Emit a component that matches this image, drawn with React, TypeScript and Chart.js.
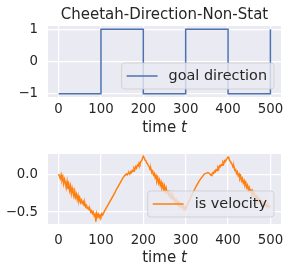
import React, { useEffect, useRef } from 'react';
import { Chart, registerables } from 'chart.js';

Chart.register(...registerables);

const TITLE = 'Cheetah-Direction-Non-Stat';
const X_LABEL_MAIN = 'time ';
const X_LABEL_ITALIC = 't';
const X_TICKS = [0, 100, 200, 300, 400, 500];

const GOAL_LABEL = 'goal direction';
const GOAL_T = [0, 100, 200, 300, 400, 500];
const GOAL_V = [-1, 1, -1, 1, -1, 1];
const GOAL_TICKS = [-1, 0, 1];

const VEL_LABEL = 'is velocity';
const VEL_T = [
  // A
  0, 2, 4, 6, 8, 10, 12, 14, 16, 18,
  20, 22, 24, 26, 28, 30, 32, 34, 36, 38,
  40, 42, 44, 46, 48, 50, 52, 54, 56, 58,
  60, 62, 64, 66, 68, 70, 72, 74, 76, 78,
  80, 82, 84, 86, 88, 90, 92, 94, 96, 98,
  100, 102, 104,
  // B
  108, 112, 116, 120, 124, 128, 132, 136, 140, 144, 148, 152, 156,
  // C
  160, 162, 164, 166, 168, 170, 172, 174, 176, 178,
  180, 182, 184, 186, 188, 190, 192, 194, 196, 198, 200,
  // D
  202, 204, 206, 208, 210, 212, 214, 216, 218, 220,
  222, 224, 226, 228, 230, 232, 234, 236, 238, 240,
  242, 244, 246, 248, 250, 252, 254, 256, 258, 260,
  262, 264, 266, 268, 270, 272, 274, 276, 278, 280,
  282, 284, 286, 288, 290, 292, 294, 296, 298, 300,
  // E
  304, 308, 312, 316, 320, 324, 328, 332, 336, 340, 344, 348, 352, 356,
  // F
  360, 362, 364, 366, 368, 370, 372, 374, 376, 378,
  380, 382, 384, 386, 388, 390, 392, 394, 396, 398, 400,
  // G
  402, 404, 406, 408, 410, 412, 414, 416, 418, 420,
  422, 424, 426, 428, 430, 432, 434, 436, 438, 440,
  442, 444, 446, 448, 450, 452, 454, 456, 458, 460,
  462, 464, 466, 468, 470, 472, 474, 476, 478, 480,
  482, 484, 486, 488, 490, 492, 494, 496, 498, 500,
];
const VEL_V = [
  // A
  0.01, -0.02, -0.05, 0.00, -0.07, -0.03, -0.12, -0.06, -0.10, -0.17,
  -0.09, -0.19, -0.13, -0.21, -0.15, -0.25, -0.18, -0.24, -0.29, -0.22,
  -0.30, -0.26, -0.33, -0.28, -0.35, -0.31, -0.37, -0.34, -0.38, -0.36,
  -0.41, -0.38, -0.43, -0.41, -0.45, -0.44, -0.47, -0.46, -0.50, -0.48,
  -0.52, -0.50, -0.55, -0.53, -0.63, -0.52, -0.56, -0.53, -0.57, -0.54,
  -0.56, -0.52, -0.54,
  // B
  -0.49, -0.45, -0.41, -0.37, -0.33, -0.29, -0.25, -0.20, -0.16, -0.12, -0.08, -0.04, -0.01,
  // C
  0.01, 0.00, 0.02, 0.03, 0.01, 0.04, 0.03, 0.06, 0.05, 0.09,
  0.07, 0.11, 0.09, 0.13, 0.12, 0.16, 0.14, 0.18, 0.19, 0.22, 0.25,
  // D
  0.23, 0.20, 0.19, 0.16, 0.15, 0.12, 0.11, 0.07, 0.08, 0.03,
  0.05, 0.00, 0.02, -0.04, -0.01, -0.08, -0.04, -0.11, -0.07, -0.14,
  -0.10, -0.17, -0.13, -0.20, -0.15, -0.22, -0.18, -0.25, -0.21, -0.27,
  -0.24, -0.30, -0.27, -0.32, -0.29, -0.34, -0.32, -0.37, -0.34, -0.39,
  -0.36, -0.40, -0.38, -0.42, -0.40, -0.44, -0.42, -0.45, -0.43, -0.46,
  // E
  -0.40, -0.35, -0.30, -0.25, -0.21, -0.16, -0.12, -0.08, -0.05, -0.02, 0.01, 0.02, 0.03, 0.02,
  // F
  -0.01, 0.01, 0.03, 0.02, 0.05, 0.04, 0.07, 0.06, 0.10, 0.08,
  0.12, 0.11, 0.14, 0.13, 0.17, 0.15, 0.19, 0.18, 0.21, 0.22, 0.24,
  // G
  0.22, 0.19, 0.18, 0.15, 0.14, 0.10, 0.11, 0.06, 0.07, 0.02,
  0.04, -0.01, 0.01, -0.05, -0.02, -0.08, -0.05, -0.11, -0.08, -0.14,
  -0.11, -0.17, -0.14, -0.20, -0.17, -0.23, -0.19, -0.26, -0.22, -0.28,
  -0.25, -0.30, -0.28, -0.33, -0.30, -0.35, -0.33, -0.37, -0.35, -0.39,
  -0.37, -0.40, -0.39, -0.42, -0.40, -0.43, -0.41, -0.44, -0.42, -0.43,
];
const VEL_TICKS = [-0.5, 0.0];

const FONT = "'DejaVu Sans'";
const TEXT_COLOR = '#262626';
const BG = '#EAEAF2';
const BLUE = '#4C72B0';
const ORANGE = '#FF7F0E';

const fmtMinus = (s: string) => s.replace('-', '\u2212');

const bgPlugin = {
  id: 'bgPlugin',
  beforeDraw(chart: any) {
    const { ctx, chartArea: ca } = chart;
    ctx.save();
    ctx.fillStyle = BG;
    ctx.fillRect(ca.left, ca.top, ca.right - ca.left, ca.bottom - ca.top);
    ctx.restore();
  },
};

const boxLegendPlugin = {
  id: 'boxLegend',
  afterDatasetsDraw(chart: any, _args: any, opts: any) {
    const { ctx, chartArea: ca } = chart;
    const ds = chart.data.datasets[0];
    const fontPx = 14.4;
    ctx.save();
    ctx.font = `${fontPx}px ${FONT}`;
    const tw = ctx.measureText(ds.label).width;
    const padL = 5, lineLen = 31, gap = 11, padR = 7, h = 26;
    const w = padL + lineLen + gap + tw + padR;
    const right = ca.right - (opts.offRight ?? 7);
    const bottom = ca.bottom - (opts.offBottom ?? 8);
    const x0 = right - w;
    const y0 = bottom - h;
    const r = 3;
    ctx.beginPath();
    ctx.moveTo(x0 + r, y0);
    ctx.lineTo(x0 + w - r, y0);
    ctx.arcTo(x0 + w, y0, x0 + w, y0 + r, r);
    ctx.lineTo(x0 + w, y0 + h - r);
    ctx.arcTo(x0 + w, y0 + h, x0 + w - r, y0 + h, r);
    ctx.lineTo(x0 + r, y0 + h);
    ctx.arcTo(x0, y0 + h, x0, y0 + h - r, r);
    ctx.lineTo(x0, y0 + r);
    ctx.arcTo(x0, y0, x0 + r, y0, r);
    ctx.closePath();
    ctx.fillStyle = 'rgba(234,234,242,0.8)';
    ctx.fill();
    ctx.strokeStyle = 'rgba(204,204,204,0.8)';
    ctx.lineWidth = 1;
    ctx.stroke();
    const cy = y0 + h / 2;
    ctx.beginPath();
    ctx.moveTo(x0 + padL, cy);
    ctx.lineTo(x0 + padL + lineLen, cy);
    ctx.strokeStyle = ds.borderColor;
    ctx.lineWidth = 1.5;
    ctx.stroke();
    ctx.fillStyle = TEXT_COLOR;
    ctx.textBaseline = 'middle';
    ctx.textAlign = 'left';
    ctx.fillText(ds.label, x0 + padL + lineLen + gap, cy + 0.5);
    ctx.restore();
  },
};

const xTitlePlugin = {
  id: 'xTitle',
  afterDraw(chart: any, _args: any, opts: any) {
    const { ctx, chartArea: ca } = chart;
    const size = 15;
    ctx.save();
    ctx.fillStyle = TEXT_COLOR;
    ctx.textBaseline = 'alphabetic';
    ctx.textAlign = 'left';
    ctx.font = `${size}px ${FONT}`;
    const w1 = ctx.measureText(X_LABEL_MAIN).width;
    ctx.font = `italic ${size}px ${FONT}`;
    const w2 = ctx.measureText(X_LABEL_ITALIC).width;
    const cx = (ca.left + ca.right) / 2;
    const x = cx - (w1 + w2) / 2;
    const y = ca.bottom + (opts.offset ?? 35);
    ctx.font = `${size}px ${FONT}`;
    ctx.fillText(X_LABEL_MAIN, x, y);
    ctx.font = `italic ${size}px ${FONT}`;
    ctx.fillText(X_LABEL_ITALIC, x + w1, y);
    ctx.restore();
  },
};

function makeOptions(cfg: {
  yMin: number; yMax: number; yTicks: number[]; yFmt: (v: number) => string;
  xAxisHeight: number; xTickPad: number; padTop: number; title: boolean;
  legendOffBottom: number; xTitleOffset: number;
}) {
  const tickFont = { family: FONT, size: 13.3 };
  return {
    animation: false,
    responsive: false,
    maintainAspectRatio: false,
    events: [],
    layout: { padding: { left: 0, right: 10, top: cfg.padTop, bottom: 0 } },
    plugins: {
      legend: { display: false },
      tooltip: { enabled: false },
      title: {
        display: cfg.title,
        text: TITLE,
        fullSize: false,
        color: TEXT_COLOR,
        font: { family: FONT, size: 15, weight: 'normal' },
        padding: { top: 6, bottom: 2 },
      },
      boxLegend: { offRight: 7, offBottom: cfg.legendOffBottom },
      xTitle: { offset: cfg.xTitleOffset },
    },
    scales: {
      x: {
        type: 'linear',
        min: -25,
        max: 525,
        afterBuildTicks: (s: any) => { s.ticks = X_TICKS.map((v) => ({ value: v })); },
        afterFit: (s: any) => { s.height = cfg.xAxisHeight; s.paddingLeft = 0; s.paddingRight = 0; },
        grid: { color: '#FFFFFF', lineWidth: 1.2, drawTicks: false },
        border: { display: false },
        ticks: {
          color: TEXT_COLOR, font: tickFont, padding: cfg.xTickPad, maxRotation: 0, autoSkip: false,
          callback: (v: any) => String(v),
        },
      },
      y: {
        type: 'linear',
        min: cfg.yMin,
        max: cfg.yMax,
        afterBuildTicks: (s: any) => { s.ticks = cfg.yTicks.map((v) => ({ value: v })); },
        afterFit: (s: any) => { s.width = 48; s.paddingTop = 0; s.paddingBottom = 0; },
        grid: { color: '#FFFFFF', lineWidth: 1.2, drawTicks: false },
        border: { display: false },
        ticks: {
          color: TEXT_COLOR, font: tickFont, padding: 10,
          callback: (v: any) => cfg.yFmt(Number(v)),
        },
      },
    },
  };
}

function App() {
  const topRef = useRef<HTMLCanvasElement | null>(null);
  const botRef = useRef<HTMLCanvasElement | null>(null);

  useEffect(() => {
    const top = new Chart(topRef.current as HTMLCanvasElement, {
      type: 'line',
      data: {
        datasets: [{
          label: GOAL_LABEL,
          data: GOAL_T.map((t, i) => ({ x: t, y: GOAL_V[i] })),
          borderColor: BLUE,
          borderWidth: 1.5,
          pointRadius: 0,
          stepped: true,
          fill: false,
        }],
      },
      options: makeOptions({
        yMin: -1.1, yMax: 1.1, yTicks: GOAL_TICKS,
        yFmt: (v) => fmtMinus(String(v)),
        xAxisHeight: 43, xTickPad: 5, padTop: 0, title: true,
        legendOffBottom: 8, xTitleOffset: 35,
      }) as any,
      plugins: [bgPlugin, boxLegendPlugin, xTitlePlugin],
    });
    const bot = new Chart(botRef.current as HTMLCanvasElement, {
      type: 'line',
      data: {
        datasets: [{
          label: VEL_LABEL,
          data: VEL_T.map((t, i) => ({ x: t, y: VEL_V[i] })),
          borderColor: ORANGE,
          borderWidth: 1.5,
          pointRadius: 0,
          tension: 0,
          fill: false,
        }],
      },
      options: makeOptions({
        yMin: -0.66, yMax: 0.28, yTicks: VEL_TICKS,
        yFmt: (v) => fmtMinus(v.toFixed(1)),
        xAxisHeight: 49, xTickPad: 9, padTop: 14, title: false,
        legendOffBottom: 7, xTitleOffset: 38,
      }) as any,
      plugins: [bgPlugin, boxLegendPlugin, xTitlePlugin],
    });
    return () => { top.destroy(); bot.destroy(); };
  }, []);

  return (
    <div style={{ position: 'absolute', left: 0, top: 0, width: 291, height: 273, background: '#FFFFFF' }}>
      <canvas ref={topRef} width={291} height={140} style={{ position: 'absolute', left: 0, top: 0, width: 291, height: 140 }} />
      <canvas ref={botRef} width={291} height={133} style={{ position: 'absolute', left: 0, top: 140, width: 291, height: 133 }} />
    </div>
  );
}

export default App;
